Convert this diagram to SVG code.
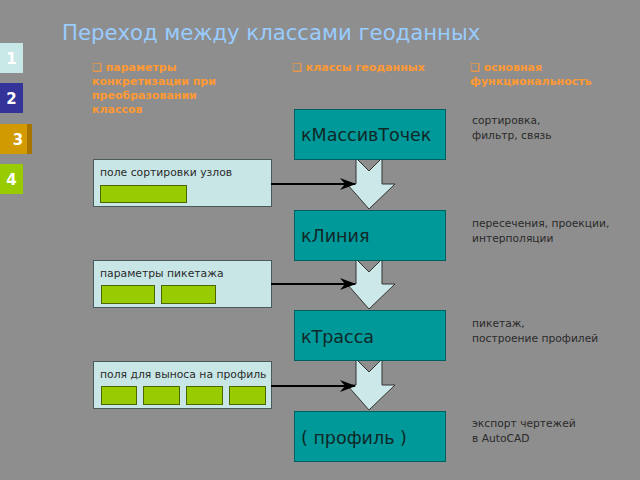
<svg xmlns="http://www.w3.org/2000/svg" width="640" height="480" viewBox="0 0 640 480">
<defs>
<style>
.bg{fill:#8e8e8e}
.title{font-family:"DejaVu Sans",Verdana,sans-serif;font-size:21.2px;fill:#99ccff}
.tab{font-family:"DejaVu Sans",sans-serif;font-size:15px;font-weight:bold;fill:#ffffff}
.hdr{font-family:"DejaVu Sans",sans-serif;font-size:11px;font-weight:bold;fill:#ff9933}
.cls{fill:#009999;stroke:#005f5f;stroke-width:1}
.clst{font-family:"DejaVu Sans",sans-serif;font-size:17.5px;fill:#102828}
.panel{fill:#c8e6e6;stroke:#4a5a5a;stroke-width:1}
.pt{font-family:"DejaVu Sans",sans-serif;font-size:10.8px;fill:#2a2a2a}
.fld{fill:#99cc00;stroke:#4d6600;stroke-width:1}
.desc{font-family:"DejaVu Sans",sans-serif;font-size:10.7px;fill:#2a2a2a}
.barrow{fill:#cce8e8;stroke:#333333;stroke-width:1}
.conn{stroke:#000;stroke-width:2;fill:none}
</style>
<marker id="ah" viewBox="0 0 16 12" refX="15" refY="6" markerWidth="16" markerHeight="12" markerUnits="userSpaceOnUse" orient="auto">
<path d="M0,0 L16,6 L0,12 L5,6 Z" fill="#000"/>
</marker>
</defs>
<rect class="bg" x="0" y="0" width="640" height="480"/>
<text class="title" x="62" y="40">Переход между классами геоданных</text>

<g id="tab1"><rect x="0" y="43" width="23" height="30" fill="#c8e8e8"/><text class="tab" x="11.5" y="63.5" text-anchor="middle">1</text></g>
<g id="tab2"><rect x="0" y="83" width="23" height="30" fill="#333399"/><text class="tab" x="11.5" y="103.5" text-anchor="middle">2</text></g>
<g id="tab3"><rect x="0" y="124" width="27" height="30" fill="#d09a00"/><rect x="27" y="124" width="5" height="30" fill="#a87400"/><text class="tab" x="18" y="144.5" text-anchor="middle">3</text></g>
<g id="tab4"><rect x="0" y="164" width="23" height="30" fill="#99cc00"/><text class="tab" x="11.5" y="184.5" text-anchor="middle">4</text></g>

<g id="hdr1"><text class="hdr" x="92" y="71">❑ параметры</text><text class="hdr" x="92" y="85">конкретизации при</text><text class="hdr" x="92" y="99">преобразовании</text><text class="hdr" x="92" y="113">классов</text></g>
<g id="hdr2"><text class="hdr" x="292" y="71">❑ классы геоданных</text></g>
<g id="hdr3"><text class="hdr" x="470" y="71">❑ основная</text><text class="hdr" x="470" y="85">функциональность</text></g>

<g id="arrows">
<path id="ba1" class="barrow" d="M356,158 L369,171 L382,158 L382,184 L395,184 L369,209 L347,184 L356,184 Z"/>
<path id="ba2" class="barrow" d="M356,259 L369,272 L382,259 L382,284 L395,284 L369,309 L347,284 L356,284 Z"/>
<path id="ba3" class="barrow" d="M356,359 L369,372 L382,359 L382,385 L395,385 L369,410 L347,385 L356,385 Z"/>
</g>

<g id="n1"><rect class="cls" x="294.5" y="109.5" width="151" height="50"/><text class="clst" x="301" y="141">кМассивТочек</text></g>
<g id="n2"><rect class="cls" x="294.5" y="210.5" width="151" height="50"/><text class="clst" x="301" y="242">кЛиния</text></g>
<g id="n3"><rect class="cls" x="294.5" y="310.5" width="151" height="50"/><text class="clst" x="301" y="343">кТрасса</text></g>
<g id="n4"><rect class="cls" x="294.5" y="411.5" width="151" height="50"/><text class="clst" x="301" y="444">( профиль )</text></g>

<g id="p1"><rect class="panel" x="93.5" y="159.5" width="178" height="47"/><text class="pt" x="100" y="176">поле сортировки узлов</text><rect class="fld" x="100.5" y="185.5" width="86" height="17"/></g>
<g id="p2"><rect class="panel" x="93.5" y="260.5" width="178" height="47"/><text class="pt" x="100" y="277">параметры пикетажа</text><rect class="fld" x="101.5" y="285.5" width="53" height="18"/><rect class="fld" x="161.5" y="285.5" width="54" height="18"/></g>
<g id="p3"><rect class="panel" x="93.5" y="361.5" width="178" height="47"/><text class="pt" x="100" y="378">поля для выноса на профиль</text><rect class="fld" x="101.5" y="386.5" width="35" height="18"/><rect class="fld" x="143.5" y="386.5" width="36" height="18"/><rect class="fld" x="186.5" y="386.5" width="36" height="18"/><rect class="fld" x="229.5" y="386.5" width="36" height="18"/></g>

<g id="connectors">
<line class="conn" x1="271" y1="184" x2="355" y2="184" marker-end="url(#ah)"/>
<line class="conn" x1="271" y1="284" x2="355" y2="284" marker-end="url(#ah)"/>
<line class="conn" x1="271" y1="386" x2="355" y2="386" marker-end="url(#ah)"/>
</g>

<g id="d1"><text class="desc" x="472" y="124">сортировка,</text><text class="desc" x="472" y="139">фильтр, связь</text></g>
<g id="d2"><text class="desc" x="472" y="227">пересечения, проекции,</text><text class="desc" x="472" y="242">интерполяции</text></g>
<g id="d3"><text class="desc" x="472" y="327">пикетаж,</text><text class="desc" x="472" y="342">построение профилей</text></g>
<g id="d4"><text class="desc" x="472" y="427">экспорт чертежей</text><text class="desc" x="472" y="442">в AutoCAD</text></g>
</svg>
